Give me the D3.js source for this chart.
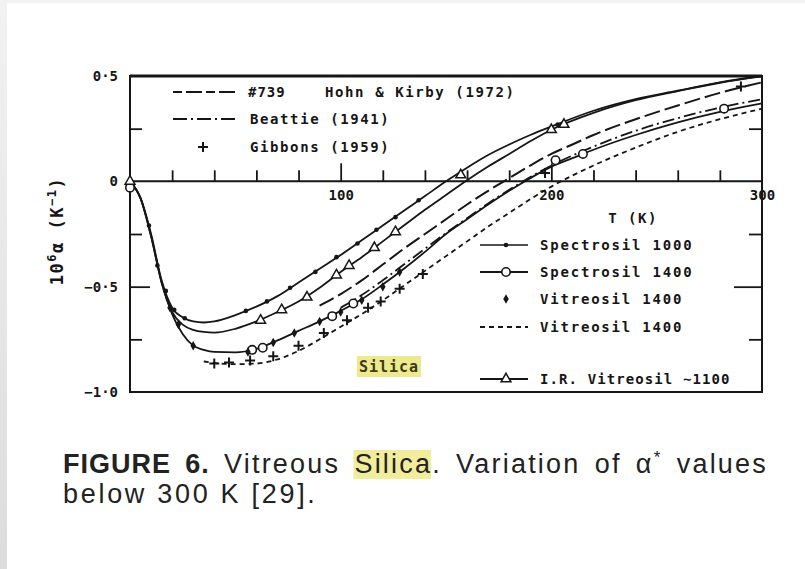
<!DOCTYPE html>
<html><head><meta charset="utf-8">
<script src="https://cdn.jsdelivr.net/npm/d3@7"></script>
<style>
html,body{margin:0;padding:0;background:#fff;}
svg{display:block;}
</style></head>
<body>
<svg id="chart" width="805" height="569"></svg>
<script>
// ---------- DATA (T in K, alpha in 1e-6 / K) ----------
const xTicksMinor = [20,40,60,80,120,140,160,180,220,240,260,280];
const xTicksMajor = [100,200];
const xTickLabels = [100,200,300];
const yTicksMinor = [0.25,-0.25,-0.75];
const yTicksMajor = [-0.5];
const yTickLabels = [[0.5,"0·5"],[0,"0"],[-0.5,"−0·5"],[-1.0,"−1·0"]];

const spectrosil1000 = [[0,0],[5,-0.08],[10,-0.25],[15,-0.47],[20,-0.6],[25,-0.645],[30,-0.665],[35,-0.67],[40,-0.665],[50,-0.635],[60,-0.595],[70,-0.545],[80,-0.48],[90,-0.415],[100,-0.35],[110,-0.28],[120,-0.21],[130,-0.14],[140,-0.07],[150,0.0],[160,0.065],[170,0.125],[180,0.175],[190,0.22],[200,0.26],[220,0.335],[240,0.39],[260,0.43],[280,0.47],[300,0.5]];
const irVitreosil = [[0,0],[5,-0.08],[10,-0.26],[15,-0.48],[20,-0.62],[25,-0.68],[30,-0.705],[35,-0.715],[40,-0.718],[50,-0.7],[60,-0.665],[70,-0.62],[80,-0.57],[90,-0.505],[100,-0.43],[110,-0.36],[120,-0.285],[130,-0.21],[140,-0.135],[150,-0.065],[160,0.005],[170,0.07],[180,0.13],[190,0.19],[200,0.245],[220,0.325],[240,0.385],[260,0.428],[280,0.468],[300,0.498]];
const hohnKirby = [[90,-0.59],[100,-0.535],[110,-0.47],[120,-0.395],[130,-0.32],[140,-0.25],[150,-0.18],[160,-0.11],[170,-0.045],[180,0.015],[190,0.075],[200,0.13],[210,0.175],[220,0.22],[240,0.295],[260,0.36],[280,0.42],[300,0.47]];
const spectrosil1400 = [[0,0],[5,-0.08],[10,-0.26],[15,-0.48],[20,-0.63],[25,-0.725],[30,-0.78],[35,-0.8],[40,-0.81],[50,-0.812],[60,-0.795],[70,-0.755],[80,-0.71],[90,-0.665],[100,-0.615],[110,-0.56],[120,-0.49],[130,-0.415],[140,-0.335],[150,-0.25],[160,-0.18],[170,-0.11],[180,-0.045],[190,0.015],[200,0.07],[210,0.11],[220,0.15],[240,0.22],[260,0.28],[280,0.33],[300,0.37]];
const beattie = [[100,-0.6],[110,-0.54],[120,-0.47],[130,-0.395],[140,-0.32],[150,-0.245],[160,-0.175],[170,-0.105],[180,-0.04],[190,0.02],[200,0.075],[220,0.165],[240,0.24],[260,0.3],[280,0.35],[300,0.39]];
const vitreosilDashed = [[35,-0.855],[40,-0.862],[50,-0.868],[60,-0.865],[70,-0.845],[80,-0.805],[90,-0.75],[100,-0.69],[110,-0.63],[120,-0.565],[130,-0.495],[140,-0.425],[150,-0.355],[160,-0.285],[170,-0.215],[180,-0.15],[190,-0.085],[200,-0.025],[220,0.075],[240,0.16],[260,0.235],[280,0.295],[300,0.345]];

const spectrosil1000Pts = [[9,-0.21],[13,-0.4],[17,-0.52],[21,-0.61],[26,-0.65],[55,-0.615],[65,-0.57],[76,-0.505],[88,-0.43],[98,-0.36],[108,-0.295],[117,-0.23],[126,-0.17],[137,-0.09],[203,0.27]];
const irVitreosilPts = [[0,0],[62,-0.66],[72,-0.61],[84,-0.55],[98,-0.445],[104,-0.4],[116,-0.315],[126,-0.24],[157,0.03],[200,0.245],[206,0.27]];
const spectrosil1400Pts = [[0,-0.03],[58,-0.8],[63,-0.79],[96,-0.64],[106,-0.58],[202,0.1],[215,0.13],[282,0.345]];
const vitreosilPts = [[19,-0.6],[23,-0.68],[30,-0.78],[56,-0.81],[68,-0.765],[78,-0.72],[90,-0.665],[100,-0.62],[110,-0.565],[120,-0.5],[128,-0.43]];
const gibbonsPts = [[40,-0.865],[47,-0.86],[57,-0.85],[68,-0.83],[80,-0.78],[92,-0.72],[103,-0.66],[113,-0.6],[119,-0.57],[128,-0.51],[139,-0.44],[197,0.04],[290,0.45]];

const legendTop = [
  {key:"hohn", tag:"#739", label:"Hohn & Kirby (1972)"},
  {key:"beattie", label:"Beattie (1941)"},
  {key:"gibbons", label:"Gibbons (1959)"}
];
const legendBottom = [
  {key:"s1000", label:"Spectrosil 1000"},
  {key:"s1400", label:"Spectrosil 1400"},
  {key:"vpts", label:"Vitreosil 1400"},
  {key:"vdash", label:"Vitreosil 1400"},
  {key:"ir", label:"I.R. Vitreosil ∼1100"}
];
const captionLine1 = ["FIGURE","6.","Vitreous","Silica.","Variation","of","α*","values"];
const captionLine2 = "below 300 K [29].";

// ---------- DRAWING ----------
const svg = d3.select("#chart");
const INK = "#161616";
const MONO = "'DejaVu Sans Mono', monospace";
const SANS = "'Liberation Sans', Arial, Helvetica, sans-serif";

const defs = svg.append("defs");
const g1 = defs.append("linearGradient").attr("id","edge").attr("x1",0).attr("y1",0).attr("x2",0).attr("y2",1);
g1.append("stop").attr("offset","0").attr("stop-color","#f2f2f2");
g1.append("stop").attr("offset","1").attr("stop-color","#dcdcdc");
svg.append("rect").attr("x",0).attr("y",0).attr("width",805).attr("height",569).attr("fill","#fff");
svg.append("rect").attr("x",0).attr("y",0).attr("width",805).attr("height",3).attr("fill","#f3f3f3");
svg.append("rect").attr("x",0).attr("y",0).attr("width",7).attr("height",569).attr("fill","url(#edge)");

const x = d3.scaleLinear().domain([0,300]).range([130,762]);
const y = d3.scaleLinear().domain([-1,0.5]).range([392,76]);

const plot = svg.append("g");

plot.append("rect").attr("x",x(0)).attr("y",y(0.5)).attr("width",x(300)-x(0)).attr("height",y(-1)-y(0.5))
  .attr("fill","none").attr("stroke",INK).attr("stroke-width",2);
plot.append("line").attr("x1",x(0)).attr("x2",x(300)).attr("y1",y(0.5)).attr("y2",y(0.5)).attr("stroke",INK).attr("stroke-width",3);
plot.append("line").attr("x1",x(0)).attr("x2",x(300)).attr("y1",y(0)).attr("y2",y(0)).attr("stroke",INK).attr("stroke-width",2);

function styleAxis(g){
  g.select(".domain").remove();
  g.selectAll(".tick line").attr("stroke",INK).attr("stroke-width",1.8);
  g.selectAll(".tick text").attr("fill",INK).attr("font-family",MONO).attr("font-weight","bold").attr("font-size",14);
}
plot.append("g").attr("transform",`translate(0,${y(0)})`)
  .call(d3.axisTop(x).tickValues(xTicksMinor).tickSize(11).tickFormat("")).call(styleAxis);
plot.append("g").attr("transform",`translate(0,${y(0)})`)
  .call(d3.axisTop(x).tickValues(xTicksMajor).tickSize(18).tickFormat("")).call(styleAxis);
plot.append("g").attr("transform",`translate(0,${y(0)})`)
  .call(d3.axisBottom(x).tickValues(xTickLabels).tickSize(0).tickPadding(9).tickFormat(d3.format("d"))).call(styleAxis);

plot.append("g").attr("transform",`translate(${x(0)},0)`)
  .call(d3.axisRight(y).tickValues(yTicksMinor).tickSize(12).tickFormat("")).call(styleAxis);
plot.append("g").attr("transform",`translate(${x(0)},0)`)
  .call(d3.axisRight(y).tickValues(yTicksMajor).tickSize(20).tickFormat("")).call(styleAxis);
const yLabMap = new Map(yTickLabels);
plot.append("g").attr("transform",`translate(${x(0)},0)`)
  .call(d3.axisLeft(y).tickValues(yTickLabels.map(d=>d[0])).tickSize(0).tickPadding(12).tickFormat(d=>yLabMap.get(d))).call(styleAxis);
plot.append("g").attr("transform",`translate(${x(300)},0)`)
  .call(d3.axisLeft(y).tickValues(yTicksMinor).tickSize(13).tickFormat("")).call(styleAxis);
plot.append("g").attr("transform",`translate(${x(300)},0)`)
  .call(d3.axisLeft(y).tickValues(yTicksMajor).tickSize(28).tickFormat("")).call(styleAxis);

plot.append("text").attr("x",633).attr("y",223).attr("text-anchor","middle")
  .attr("font-family",MONO).attr("font-weight","bold").attr("font-size",14).attr("letter-spacing",1.5).attr("fill",INK).text("T (K)");
const yt = plot.append("text").attr("transform","translate(63,231) rotate(-90)").attr("text-anchor","middle")
  .attr("font-family",MONO).attr("font-weight","bold").attr("font-size",17).attr("letter-spacing",1.5).attr("fill",INK);
yt.append("tspan").text("10");
yt.append("tspan").attr("font-size",12).attr("dy",-7).text("6");
yt.append("tspan").attr("dy",7).text("α (K");
yt.append("tspan").attr("font-size",12).attr("dy",-7).text("−1");
yt.append("tspan").attr("dy",7).text(")");

const line = d3.line().x(d=>x(d[0])).y(d=>y(d[1])).curve(d3.curveMonotoneX);
const curves = [
  {data:spectrosil1000, dash:null, w:1.8},
  {data:irVitreosil, dash:null, w:1.8},
  {data:spectrosil1400, dash:null, w:1.8},
  {data:hohnKirby, dash:"16,5", w:2},
  {data:beattie, dash:"12,4,2,4", w:1.8},
  {data:vitreosilDashed, dash:"5,4", w:1.8}
];
plot.append("g").selectAll("path").data(curves).join("path")
  .attr("d",d=>line(d.data)).attr("fill","none").attr("stroke",INK)
  .attr("stroke-width",d=>d.w).attr("stroke-dasharray",d=>d.dash);

const symTri = d3.symbol().type(d3.symbolTriangle).size(42);
const symDia = d3.symbol().type(d3.symbolDiamond).size(26);
const plusPath = (s)=>`M${-s},0H${s}M0,${-s}V${s}`;

function dots(g, pts){ g.selectAll(null).data(pts).join("circle")
  .attr("cx",d=>x(d[0])).attr("cy",d=>y(d[1])).attr("r",2.3).attr("fill",INK); }
function circles(g, pts){ g.selectAll(null).data(pts).join("circle")
  .attr("cx",d=>x(d[0])).attr("cy",d=>y(d[1])).attr("r",4.2).attr("fill","#fff").attr("stroke",INK).attr("stroke-width",1.6); }
function tris(g, pts){ g.selectAll(null).data(pts).join("path")
  .attr("transform",d=>`translate(${x(d[0])},${y(d[1])})`).attr("d",symTri()).attr("fill","#fff").attr("stroke",INK).attr("stroke-width",1.5); }
function dias(g, pts){ g.selectAll(null).data(pts).join("path")
  .attr("transform",d=>`translate(${x(d[0])},${y(d[1])})`).attr("d",symDia()).attr("fill",INK); }
function pluses(g, pts){ g.selectAll(null).data(pts).join("path")
  .attr("transform",d=>`translate(${x(d[0])},${y(d[1])})`).attr("d",plusPath(5)).attr("stroke",INK).attr("stroke-width",2); }

const mk = plot.append("g");
circles(mk.append("g"), spectrosil1400Pts);
tris(mk.append("g"), irVitreosilPts);
dots(mk.append("g"), spectrosil1000Pts);
dias(mk.append("g"), vitreosilPts);
pluses(mk.append("g"), gibbonsPts);

const lt = plot.append("g").attr("font-family",MONO).attr("font-weight","bold").attr("font-size",14).attr("fill",INK);
const ltRows = [92,119,147];
legendTop.forEach((d,i)=>{
  const yy = ltRows[i];
  if(d.key==="hohn"){
    lt.append("line").attr("x1",173).attr("x2",236).attr("y1",yy).attr("y2",yy).attr("stroke",INK).attr("stroke-width",2).attr("stroke-dasharray","9,4,16,4");
    lt.append("text").attr("x",248).attr("y",yy+5).attr("letter-spacing",1).text(d.tag);
    lt.append("text").attr("x",325).attr("y",yy+5).attr("letter-spacing",1.6).text(d.label);
  } else if(d.key==="beattie"){
    lt.append("line").attr("x1",173).attr("x2",236).attr("y1",yy).attr("y2",yy).attr("stroke",INK).attr("stroke-width",2).attr("stroke-dasharray","14,4,2,4");
    lt.append("text").attr("x",250).attr("y",yy+5).attr("letter-spacing",1.6).text(d.label);
  } else {
    lt.append("path").attr("transform",`translate(203,${yy})`).attr("d",plusPath(5)).attr("stroke",INK).attr("stroke-width",2);
    lt.append("text").attr("x",250).attr("y",yy+5).attr("letter-spacing",1.6).text(d.label);
  }
});

const lb = plot.append("g").attr("font-family",MONO).attr("font-weight","bold").attr("font-size",14).attr("fill",INK);
const lbRows = [245,272,299,327,379];
legendBottom.forEach((d,i)=>{
  const yy = lbRows[i];
  const g = lb.append("g");
  if(d.key==="s1000"){
    g.append("line").attr("x1",480).attr("x2",528).attr("y1",yy).attr("y2",yy).attr("stroke",INK).attr("stroke-width",1.6);
    g.append("circle").attr("cx",506).attr("cy",yy).attr("r",2.3).attr("fill",INK);
  } else if(d.key==="s1400"){
    g.append("line").attr("x1",480).attr("x2",528).attr("y1",yy).attr("y2",yy).attr("stroke",INK).attr("stroke-width",1.8);
    g.append("circle").attr("cx",506).attr("cy",yy).attr("r",4.2).attr("fill","#fff").attr("stroke",INK).attr("stroke-width",1.6);
  } else if(d.key==="vpts"){
    g.append("path").attr("transform",`translate(506,${yy})`).attr("d",symDia()).attr("fill",INK);
  } else if(d.key==="vdash"){
    g.append("line").attr("x1",480).attr("x2",528).attr("y1",yy).attr("y2",yy).attr("stroke",INK).attr("stroke-width",1.8).attr("stroke-dasharray","5,4");
  } else {
    g.append("line").attr("x1",480).attr("x2",528).attr("y1",yy).attr("y2",yy).attr("stroke",INK).attr("stroke-width",2.2);
    g.append("path").attr("transform",`translate(506,${yy})`).attr("d",symTri()).attr("fill","#fff").attr("stroke",INK).attr("stroke-width",1.5);
  }
  g.append("text").attr("x",540).attr("y",yy+5).attr("letter-spacing",d.key==="ir"?1.1:1.8).text(d.label);
});

plot.append("rect").attr("x",357).attr("y",356).attr("width",64).attr("height",21).attr("fill","#efe98e");
plot.append("text").attr("x",389).attr("y",372).attr("text-anchor","middle").attr("font-family",MONO)
  .attr("font-weight","bold").attr("font-size",15).attr("fill","#3c3a18").attr("letter-spacing",1).text("Silica");

// ---------- caption ----------
const cap = svg.append("g").attr("font-family",SANS).attr("font-size",27).attr("fill","#222");
const capLeft = 63, capRight = 768, base1 = 473, base2 = 503;
const words = [];
captionLine1.forEach((w,i)=>{
  const t = cap.append("text").attr("y",base1);
  if(i<2) t.attr("font-weight","bold").attr("letter-spacing",1.0);
  else t.attr("letter-spacing",2.2);
  if(w==="Silica."){ t.append("tspan").attr("class","sil").text("Silica"); t.append("tspan").text("."); }
  else if(w==="α*"){ t.append("tspan").text("α"); t.append("tspan").attr("font-size",17).attr("dy",-10).text("*"); }
  else t.text(w);
  words.push(t);
});
const widths = words.map(t=>t.node().getComputedTextLength());
const gap = (capRight - capLeft - d3.sum(widths)) / (words.length-1);
let cx = capLeft;
words.forEach((t,i)=>{ t.attr("x",cx); if(captionLine1[i]==="Silica."){
    const sw = t.select(".sil").node().getComputedTextLength();
    cap.insert("rect","text").attr("x",cx-1).attr("y",base1-23).attr("width",sw).attr("height",29).attr("fill","#f2ed9c");
  }
  cx += widths[i] + gap; });
cap.append("text").attr("x",capLeft).attr("y",base2).attr("letter-spacing",2.7).text(captionLine2);
</script>
</body></html>
